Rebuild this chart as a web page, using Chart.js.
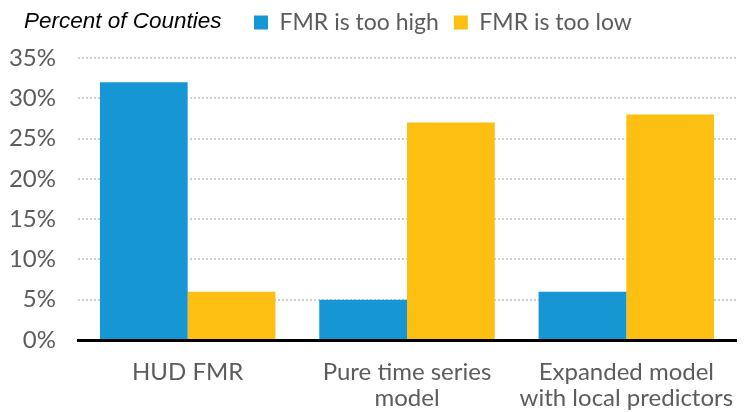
<!DOCTYPE html>
<html lang="en">
<head>
  <meta charset="UTF-8" />
  <title>Percent of Counties</title>
  <script src="https://cdn.jsdelivr.net/npm/chart.js"></script>
  <style>
    body { margin: 0; background: #fff; }
    canvas { display: block; }
  </style>
</head>
<body>
  <canvas id="fmrChart" width="744" height="412"></canvas>

  <script>
    const categories = [["HUD FMR"], ["Pure time series", "model"], ["Expanded model", "with local predictors"]];
    const seriesNames = ["FMR is too high", "FMR is too low"];
    const tooHigh = [32, 5, 6];
    const tooLow = [6, 27, 28];
    const yTicks = [0, 5, 10, 15, 20, 25, 30, 35];

    const textGray = "#5c5c5c";

    // title sits on the legend row, left of the items
    const legendRow = {
      id: "legendRow",
      afterLayout(chart) {
        chart.legend.left = 239;
        chart.legend.top -= 14;
      },
      afterDraw(chart) {
        const ctx = chart.ctx;
        ctx.save();
        ctx.font = "italic 22.5px 'Liberation Sans'";
        ctx.fillStyle = "#000";
        ctx.textBaseline = "middle";
        ctx.fillText("Percent of Counties", 24, 22);
        ctx.restore();
      }
    };

    new Chart(document.getElementById("fmrChart"), {
      type: "bar",
      data: {
        labels: categories,
        datasets: [
          { label: seriesNames[0], data: tooHigh, backgroundColor: "#1696d2" },
          { label: seriesNames[1], data: tooLow, backgroundColor: "#fdbf11" }
        ]
      },
      options: {
        responsive: false,
        animation: false,
        categoryPercentage: 0.8,
        barPercentage: 1.0,
        layout: { padding: { left: 0, right: 8, top: 10, bottom: 0 } },
        plugins: {
          tooltip: { enabled: false },
          legend: {
            position: "top",
            align: "start",
            labels: {
              boxWidth: 14,
              boxHeight: 14,
              padding: 15,
              color: textGray,
              font: { family: "Lato", size: 23 }
            }
          }
        },
        scales: {
          x: {
            grid: { display: false, drawTicks: false },
            border: { color: "#000", width: 3 },
            afterFit(axis) {
              axis.height = 72;
              // long last label may spill past the plot edge, as in the original
              axis.paddingLeft = 0;
              axis.paddingRight = 0;
            },
            ticks: {
              color: textGray,
              padding: 19,
              font: { family: "Lato", size: 24, lineHeight: "26px" },
              maxRotation: 0
            }
          },
          y: {
            min: 0,
            max: 35,
            afterBuildTicks(axis) {
              axis.ticks = yTicks.map(v => ({ value: v }));
            },
            afterFit(axis) { axis.width = 78; },
            grid: { color: "#cfcfcf", lineWidth: 2, drawTicks: false },
            border: { display: false, dash: [2, 2] },
            ticks: {
              color: textGray,
              padding: 22,
              font: { family: "Lato", size: 24 },
              callback: v => v + "%"
            }
          }
        }
      },
      plugins: [legendRow]
    });
  </script>
</body>
</html>
